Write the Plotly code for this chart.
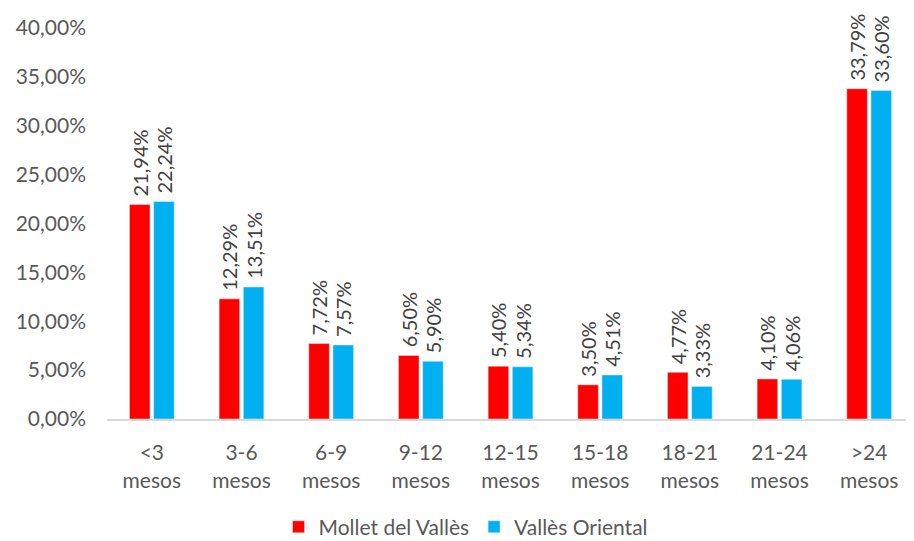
import plotly.graph_objects as go

categories = ["<3<br>mesos", "3-6<br>mesos", "6-9<br>mesos", "9-12<br>mesos", "12-15<br>mesos",
              "15-18<br>mesos", "18-21<br>mesos", "21-24<br>mesos", ">24<br>mesos"]
mollet = [21.94, 12.29, 7.72, 6.50, 5.40, 3.50, 4.77, 4.10, 33.79]
valles = [22.24, 13.51, 7.57, 5.90, 5.34, 4.51, 3.33, 4.06, 33.60]
y_ticks = [0, 5, 10, 15, 20, 25, 30, 35, 40]
y_ticktext = [f"{v:.2f}%".replace(".", ",") for v in y_ticks]

FONT = "Lato"
GRAY = "#595959"
PAD = "\u00a0"

fig = go.Figure()
for name, vals, color in [("Mollet del Vallès", mollet, "#FF0000"),
                          ("Vallès Oriental", valles, "#00B0F0")]:
    fig.add_trace(go.Bar(
        name=name, x=categories, y=vals,
        marker=dict(color=color),
        texttemplate=PAD + "%{y:.2f}%", textposition="outside", textangle=-90,
        constraintext="none", cliponaxis=False,
        textfont=dict(family=FONT, size=20, color="#404040"),
    ))

fig.update_layout(
    width=906, height=533,
    margin=dict(l=99, r=0, t=20, b=122, autoexpand=False),
    paper_bgcolor="white", plot_bgcolor="white",
    separators=",.",
    barmode="group", bargap=0.46, bargroupgap=0.15,
    font=dict(family=FONT, size=21, color=GRAY),
    showlegend=True,
    legend=dict(orientation="h", x=0.505, xanchor="center", xref="container",
                y=0.026, yanchor="middle", yref="container",
                font=dict(family=FONT, size=21, color=GRAY),
                traceorder="normal"),
)
fig.update_xaxes(
    showgrid=False, showline=True, linecolor="#D9D9D9", linewidth=2,
    tickfont=dict(family=FONT, size=21, color=GRAY), ticks="", ticklabelstandoff=14,
    automargin=False,
)
fig.update_yaxes(
    range=[0, 40], tickvals=y_ticks, ticktext=y_ticktext,
    showgrid=False, zeroline=False, showline=False,
    tickfont=dict(family=FONT, size=21, color=GRAY), ticklabelstandoff=20,
    automargin=False,
)

fig.write_html("out.html")
